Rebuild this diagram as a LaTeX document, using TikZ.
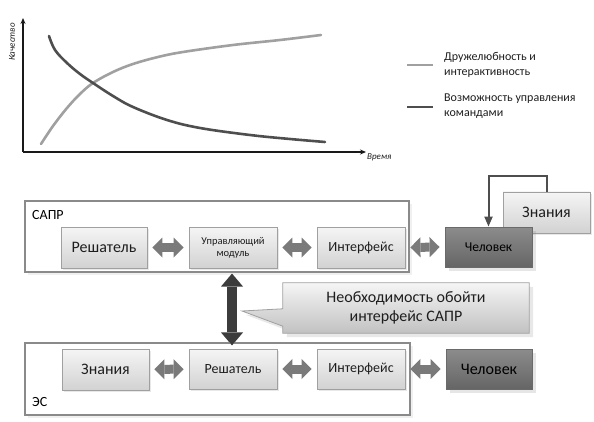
\documentclass[tikz,border=0pt]{standalone}
\usepackage{fontspec}
\setmainfont{Carlito}
\usetikzlibrary{arrows.meta,shadows,backgrounds,calc}
\definecolor{boxtop}{HTML}{F5F5F5}
\definecolor{boxbot}{HTML}{D2D2D2}
\definecolor{boxline}{HTML}{A0A0A0}
\definecolor{mantop}{HTML}{8C8C8C}
\definecolor{manbot}{HTML}{656565}
\definecolor{manline}{HTML}{6A6A6A}
\definecolor{fatgray}{HTML}{7A7A7A}
\definecolor{darkarr}{HTML}{3C3C3C}
\definecolor{outline}{HTML}{8A8A8A}
\definecolor{lightcurve}{HTML}{A0A0A0}
\definecolor{darkcurve}{HTML}{4E4E4E}
\definecolor{txt}{HTML}{1E1E1E}
\tikzset{
  fs/.style 2 args={font=\fontsize{#1}{#2}\selectfont},
  outerbox/.style={draw=outline, line width=1.1pt, fill=white,
    drop shadow={shadow xshift=3pt, shadow yshift=-3pt, opacity=0.12}},
  inbox/.style={draw=boxline, line width=0.8pt, top color=boxtop, bottom color=boxbot,
    minimum width=87pt, minimum height=41pt, inner sep=0pt, align=center, text=txt,
    drop shadow={shadow xshift=2pt, shadow yshift=-2pt, opacity=0.18}},
  manbox/.style={draw=manline, line width=0.8pt, top color=mantop, bottom color=manbot,
    minimum width=87pt, minimum height=40pt, inner sep=0pt, align=center, text=black,
    drop shadow={shadow xshift=4pt, shadow yshift=-4pt, opacity=0.2}},
  fat/.style={draw=fatgray, line width=9pt,
    {Triangle[length=10pt,width=20pt,line width=0pt]}-{Triangle[length=10pt,width=20pt,line width=0pt]},
    shorten <=5pt, shorten >=5pt},
  bigarrow/.style={draw=darkarr, line width=10pt,
    {Triangle[length=13pt,width=22pt,line width=0pt]}-{Triangle[length=13pt,width=22pt,line width=0pt]}},
  feedback/.style={draw=darkcurve, line width=2pt, -{Triangle[length=10pt,width=8pt]}},
  lbl/.style={anchor=west, inner sep=0pt, text=black, fs={14}{17}},
  legtxt/.style={anchor=west, inner sep=0pt, text=txt, fs={12}{15}, align=left},
  axislbl/.style={inner sep=0pt, text=txt, font=\fontsize{9}{10}\selectfont\itshape},
}
\begin{document}
\begin{tikzpicture}[x=1pt,y=-1pt]
\useasboundingbox (0,0) rectangle (594,422);

% ---------- chart ----------
\coordinate (o) at (23,152);
\coordinate (ytop) at (23,18);
\coordinate (xend) at (366,152);
\draw[line width=1.3pt, black!90, -{Stealth[length=6pt,width=5pt]}] (o) -- (ytop);
\draw[line width=1.3pt, black!90, -{Stealth[length=6pt,width=5pt]}] (o) -- (xend);
\node[axislbl, rotate=90] (ylab) at (12,42) {Качество};
\node[axislbl, anchor=west] (xlab) at (367,157) {Время};

\draw[lightcurve, line width=2.6pt, line cap=round] plot[smooth, tension=0.6] coordinates
  {(41,144) (53,126) (67,108) (80,94) (93,83) (113,72) (133,64) (158,57) (183,52) (233,45) (280,40) (321,35)};
\draw[darkcurve, line width=2.6pt, line cap=round] plot[smooth, tension=0.6] coordinates
  {(49,36) (55,50) (67,63) (80,74) (93,83) (113,96) (133,107) (167,120) (200,128) (250,135) (290,139) (325,142)};

% legend
\coordinate (l1a) at (407,65); \coordinate (l1b) at (433,65);
\coordinate (l2a) at (407,107); \coordinate (l2b) at (433,107);
\draw[lightcurve, line width=2.6pt] (l1a) -- (l1b);
\draw[darkcurve, line width=2.6pt] (l2a) -- (l2b);
\node[legtxt] (leg1) at (444,65) {Дружелюбность и\\интерактивность};
\node[legtxt] (leg2) at (444,106) {Возможность управления\\командами};

% ---------- САПР ----------
\node[outerbox, minimum width=384pt, minimum height=71pt] (sapr) at (217,236.5) {};
\node[lbl] (saprlbl) at (32,215) {САПР};
\node[inbox, minimum width=86pt, fs={16}{19}] (resh1) at (104,247.5) {Решатель};
\node[inbox, minimum width=88pt, fs={10.5}{12}] (upr) at (233,247.5) {Управляющий\\модуль};
\node[inbox, minimum width=88pt, fs={14}{17}] (int1) at (361,247.5) {Интерфейс};
\node[inbox, fs={16}{19}] (zn1) at (546.5,212.5) {Знания};
\node[manbox, fs={13.5}{16}] (chel1) at (488.5,247) {Человек};
\draw[feedback] (zn1.north) -- ++(0,-16) -| (chel1.north);

\draw[fat] (resh1) -- (upr);
\draw[fat] (upr) -- (int1);
\draw[fat] (int1.east) -- (chel1.west);

% ---------- ЭС ----------
\node[outerbox, minimum width=385pt, minimum height=72pt] (es) at (217.5,379) {};
\node[lbl] (eslbl) at (32,402) {ЭС};
\node[inbox, fs={16}{19}] (zn2) at (105.5,369.5) {Знания};
\node[inbox, minimum width=88pt, minimum height=40pt, fs={14}{17}] (resh2) at (233,369) {Решатель};
\node[inbox, minimum width=88pt, minimum height=40pt, fs={14}{17}] (int2) at (361,369) {Интерфейс};
\node[manbox, minimum width=86pt, fs={16}{19}] (chel2) at (489,369) {Человек};

\draw[fat] (zn2) -- (resh2);
\draw[fat] (resh2) -- (int2);
\draw[fat] (int2.east) -- (chel2.west);

% ---------- vertical arrow ----------
\coordinate (vtop) at ($(upr.south |- sapr.south)+(-1,1)$);
\coordinate (vbot) at ($(resh2.north |- es.north)+(-1,3)$);
\draw[white, line width=13pt, {Triangle[length=15pt,width=26pt,line width=0pt]}-{Triangle[length=15pt,width=26pt,line width=0pt]}, opacity=0.8] (vtop) -- (vbot);
\draw[bigarrow] (vtop) -- (vbot);

% ---------- callout ----------
\node[minimum width=246pt, minimum height=50pt, inner sep=0pt, align=center, text=txt,
      fs={16}{19}] (need) at (406,308) {Необходимость обойти\\интерфейс САПР};
\coordinate (tip) at (242,311);
\begin{pgfonlayer}{background}
\path[draw=boxline, line width=0.8pt, top color=boxtop, bottom color=boxbot!92!black,
      drop shadow={shadow xshift=4pt, shadow yshift=-4pt, opacity=0.18}]
  (need.north west) -- (need.north east) -- (need.south east) -- (need.south west)
  -- ($(need.south west)+(0,-7)$) -- (tip) -- ($(need.north west)+(0,26)$) -- cycle;
\end{pgfonlayer}
\end{tikzpicture}
\end{document}
